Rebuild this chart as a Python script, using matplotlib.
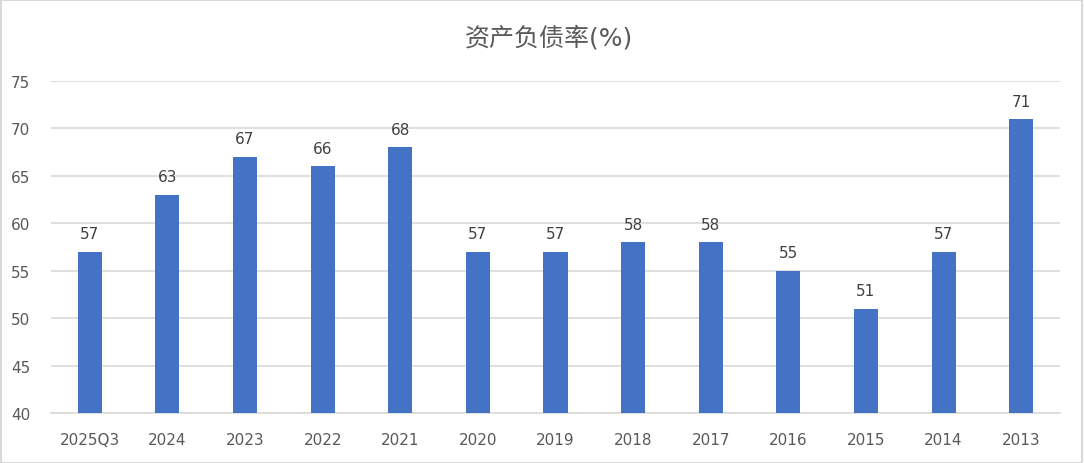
import matplotlib
matplotlib.use("Agg")
import matplotlib.pyplot as plt
from matplotlib.patches import Rectangle

plt.rcParams['font.family'] = ['DejaVu Sans', 'Noto Sans CJK SC']

categories = ["2025Q3", "2024", "2023", "2022", "2021", "2020", "2019",
              "2018", "2017", "2016", "2015", "2014", "2013"]
values = [57, 63, 67, 66, 68, 57, 57, 58, 58, 55, 51, 57, 71]
yticks = [40, 45, 50, 55, 60, 65, 70, 75]
title = "资产负债率(%)"

fig = plt.figure(figsize=(10.84, 4.64), dpi=100)
fig.patches.append(Rectangle((0.0005, 0.001), 0.998, 0.997, transform=fig.transFigure,
                             fill=False, edgecolor="#d9d9d9", linewidth=1.5))
ax = fig.add_axes([51/1084, 50/464, 1009/1084, 332/464])

x = range(len(categories))
ax.bar(x, values, width=0.31, color="#4472C4", zorder=3)
for xi, v in zip(x, values):
    ax.text(xi, v + 1.1, f"{v}", ha="center", va="bottom", fontsize=11, color="#404040")

ax.set_ylim(40, 75)
ax.set_xlim(-0.5, len(categories) - 0.5)
ax.set_yticks(yticks)
ax.set_xticks(list(x))
ax.set_xticklabels(categories)
ax.tick_params(axis="both", length=0, labelsize=11, labelcolor="#595959")
ax.tick_params(axis="y", pad=15)
ax.tick_params(axis="x", pad=14)
ax.grid(axis="y", color="#d9d9d9", linewidth=1.2, zorder=0)
for s in ["top", "right", "left"]:
    ax.spines[s].set_visible(False)
ax.spines["bottom"].set_color("#d9d9d9")
ax.spines["bottom"].set_linewidth(1.2)

fig.text(549/1084, 1 - 38/464, title, ha="center", va="center", fontsize=18, color="#595959")

fig.savefig("out.png", dpi=100)
